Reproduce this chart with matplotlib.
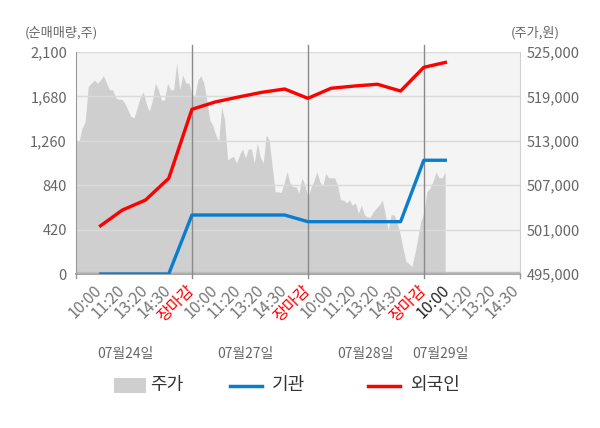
import matplotlib
matplotlib.use('Agg')
import matplotlib.pyplot as plt
from matplotlib.patches import Rectangle
from matplotlib.lines import Line2D
from matplotlib.ticker import FuncFormatter
import numpy as np

plt.rcParams['font.family'] = ['Noto Sans CJK KR', 'DejaVu Sans']

# ---------------- data ----------------
dates = ['07월24일', '07월27일', '07월28일', '07월29일']
tick_labels = ['10:00', '11:20', '13:20', '14:30', '장마감'] * 3 + ['10:00', '11:20', '13:20', '14:30']

# 주가 (intraday price, right axis)
price_d1 = [512900, 512900, 514700, 515600, 520300, 520800, 521200, 520800, 521200, 521800,
            520800, 519900, 519900, 518800, 518600, 518600, 518100, 517200, 516300, 516100,
            517400, 518800, 519600, 518100, 517000, 518400, 520800, 519900, 518500, 518500,
            520800, 519900, 519900, 523500, 519900, 521900, 520800, 520800]
price_d2 = [519200, 519100, 521200, 521800, 520800, 518500, 515800, 515100, 513800, 512900,
            517600, 515800, 510400, 510700, 510900, 510000, 511100, 511900, 510700, 511900,
            511900, 510000, 512700, 510800, 510000, 513800, 513100, 509500, 506100, 506100,
            506000, 507300, 508800, 507300, 506800, 506800, 505900, 508000, 507000]
price_d3 = [505400, 506600, 507500, 508800, 507500, 506800, 508600, 508000, 508000, 508000,
            507000, 505000, 505000, 504600, 505000, 504300, 504600, 503200, 504300, 503000,
            502700, 502700, 503400, 503900, 504300, 505000, 503200, 500900, 503000, 503000,
            502000, 500500, 498500, 496700, 496400, 496000, 497800, 499900, 502100]
price_d4 = [503200, 506100, 506600, 507500, 508800, 508000, 508000, 508800]

# 순매매량 (cumulative net buying, left axis)
inst = [0, 0, 0, 0, 558, 558, 558, 558, 558, 495, 495, 495, 495, 495, 1076, 1076]
foreign = [447, 605, 700, 905, 1558, 1627, 1674, 1718, 1750, 1662, 1757, 1778, 1795, 1731, 1955, 2005]

left_ticks = [0, 420, 840, 1260, 1680, 2100]
right_ticks = [495000, 501000, 507000, 513000, 519000, 525000]

# ---------------- figure ----------------
W, H = 600, 428
fig = plt.figure(figsize=(6.0, 4.28), dpi=100)


def fx(px):
    return px / W


def fy(py):
    return 1 - py / H


ax_p = fig.add_axes([fx(76), fy(274), (520 - 76) / W, (274 - 52) / H])
ax_p.set_facecolor('#f4f4f4')
ax_l = ax_p.twinx()
ax_l.set_zorder(ax_p.get_zorder() + 1)
ax_l.patch.set_visible(False)

# swap y axes: price on right, volume on left
ax_p.yaxis.tick_right()
ax_l.yaxis.tick_left()

# gray price area
days = [price_d1, price_d2, price_d3]
xs = []
for d, vals in enumerate(days):
    xs.append(np.linspace(5 * d, 5 * d + 5, len(vals), endpoint=False))
xs.append(15 + np.arange(len(price_d4)) * 5 / 38)
xs = np.concatenate(xs)
prices = np.array(price_d1 + price_d2 + price_d3 + price_d4)
ax_p.fill_between(xs, right_ticks[0], prices, color='#cfcfcf', lw=0)
ax_p.set_ylim(right_ticks[0], right_ticks[-1])
ax_p.set_yticks(right_ticks)
ax_p.yaxis.set_major_formatter(FuncFormatter(lambda v, p: f'{int(v):,}'))
ax_p.tick_params(axis='y', length=0, pad=5, labelsize=10.5, labelcolor='#666666')

xmax = 19.15
ax_p.set_xlim(0, xmax)
ax_p.set_xticks(np.arange(1, 20))
ax_p.set_xticklabels(tick_labels, rotation=45, ha='right', va='center', rotation_mode='anchor')
ax_p.tick_params(axis='x', length=0, pad=10, labelsize=11.5, labelcolor='#777777')
for i, lab in enumerate(ax_p.get_xticklabels()):
    if lab.get_text() == '장마감':
        lab.set_color('#ff0000')
    elif i == 15:
        lab.set_color('#222222')

# lines
xl = np.arange(1, len(foreign) + 1)
ax_l.set_ylim(left_ticks[0], left_ticks[-1])
ax_l.set_yticks(left_ticks)
ax_l.yaxis.set_major_formatter(FuncFormatter(lambda v, p: f'{int(v):,}'))
ax_l.tick_params(axis='y', length=0, pad=6.5, labelsize=10.5, labelcolor='#666666')
ax_l.grid(axis='y', color='#dadada', lw=1)
ax_l.set_axisbelow(True)

for u in [5, 10, 15]:
    ax_l.axvline(u, ymin=-4 / 222, ymax=1 + 7 / 222, color='#8a8a8a', lw=1, clip_on=False, zorder=1.5)
for u in [0, xmax]:
    ax_l.axvline(u, ymin=-4 / 222, ymax=0, color='#999999', lw=1, clip_on=False, zorder=1.5)

ax_l.plot(xl, inst, color='#0a7ecc', lw=2.4, zorder=3, solid_capstyle='butt')
ax_l.plot(xl, foreign, color='#ff0000', lw=2.4, zorder=3, solid_capstyle='butt')

# secondary thin baseline
ax_l.add_line(Line2D([0, 1], [2.5 / 222, 2.5 / 222], transform=ax_l.transAxes, color='#bdbdbd', lw=1, zorder=1))

# spines
for s in ['left', 'top']:
    ax_p.spines[s].set_visible(False)
ax_p.spines['bottom'].set_color('#999999')
ax_p.spines['bottom'].set_linewidth(1.2)
ax_p.spines['right'].set_color('#d0d0d0')
for s in ['right', 'top', 'bottom']:
    ax_l.spines[s].set_visible(False)
ax_l.spines['left'].set_color('#999999')

# axis titles
fig.text(fx(61), fy(33), '(순매매량,주)', ha='center', va='center', fontsize=9.5, color='#666666')
fig.text(fx(535), fy(33), '(주가,원)', ha='center', va='center', fontsize=9.5, color='#666666')

# date labels
for d, cx in zip(dates, [125, 245, 365, 440]):
    fig.text(fx(cx), fy(354), d, ha='center', va='center', fontsize=10, color='#666666')

# legend
fig.add_artist(Rectangle((fx(114), fy(393)), (146 - 114) / W, 15 / H, transform=fig.transFigure,
                         facecolor='#cfcfcf', edgecolor='none'))
fig.text(fx(150), fy(385), '주가', ha='left', va='center', fontsize=13, color='#333333')
fig.add_artist(Line2D([fx(230), fx(262)], [fy(386), fy(386)], transform=fig.transFigure,
                      color='#0a7ecc', lw=2.5))
fig.text(fx(272), fy(385), '기관', ha='left', va='center', fontsize=13, color='#333333')
fig.add_artist(Line2D([fx(368), fx(400)], [fy(386), fy(386)], transform=fig.transFigure,
                      color='#ff0000', lw=2.5))
fig.text(fx(410), fy(385), '외국인', ha='left', va='center', fontsize=13, color='#333333')

fig.savefig('out.png', dpi=100)
